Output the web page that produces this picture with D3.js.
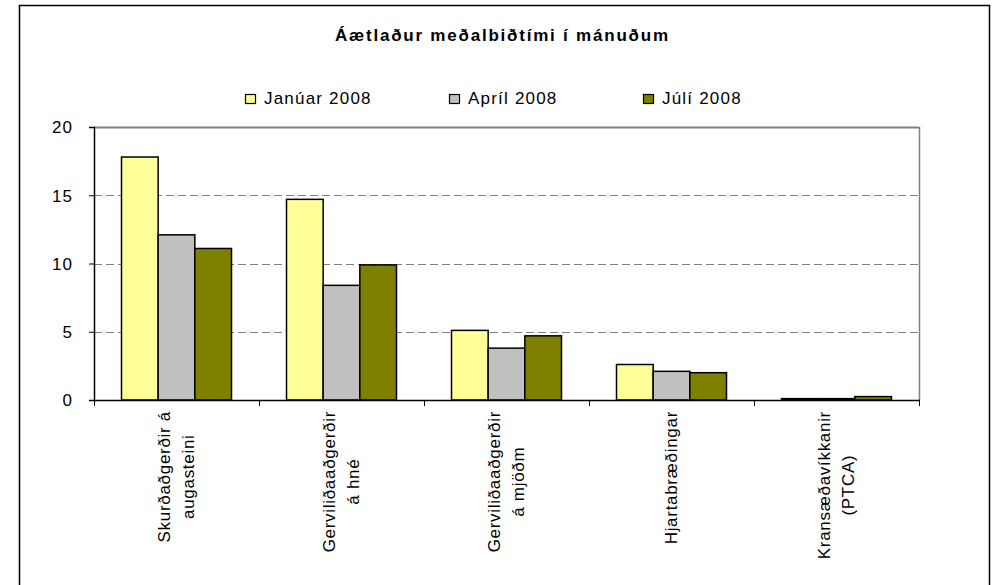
<!DOCTYPE html>
<html>
<head>
<meta charset="utf-8">
<script src="https://cdn.jsdelivr.net/npm/d3@7"></script>
<style>
  body { margin: 0; background: #fff; }
  svg { display: block; font-family: "Liberation Sans", Arial, sans-serif; }
</style>
</head>
<body>
<div id="chart"></div>
<script>
const title = 'Áætlaður meðalbiðtími í mánuðum';
const categories = [
  ['Skurðaðgerðir á', 'augasteini'],
  ['Gerviliðaaðgerðir', 'á hné'],
  ['Gerviliðaaðgerðir', 'á mjöðm'],
  ['Hjartabræðingar'],
  ['Kransæðavíkkanir', '(PTCA)']
];
const seriesNames = ['Janúar 2008', 'Apríl 2008', 'Júlí 2008'];
const seriesColors = ['#FFFF99', '#C0C0C0', '#808000'];
const jan2008 = [17.8, 14.7, 5.1, 2.6, 0.1];
const apr2008 = [12.1, 8.4, 3.8, 2.1, 0.1];
const jul2008 = [11.1, 9.9, 4.7, 2.0, 0.25];
const yTicks = [0, 5, 10, 15, 20];

const width = 994, height = 585;
const plot = { left: 94, right: 919, top: 127, bottom: 400 };

const svg = d3.select('#chart').append('svg')
  .attr('width', width)
  .attr('height', height);

svg.append('rect')
  .attr('x', 19.5).attr('y', 5.5)
  .attr('width', 970).attr('height', 600)
  .attr('fill', '#fff')
  .attr('stroke', '#000')
  .attr('stroke-width', 1.5);

let x0 = d3.scaleBand()
  .domain(d3.range(categories.length))
  .range([plot.left, plot.right]);

// excel style gap width 150%
let x1 = d3.scaleBand()
  .domain(d3.range(seriesNames.length))
  .range([0, x0.bandwidth()])
  .paddingOuter(0.75)
  .paddingInner(0);

let y = d3.scaleLinear()
  .domain([0, 20])
  .range([plot.bottom, plot.top]);

// gridlines
svg.append('g')
  .selectAll('line')
  .data(yTicks.filter(d => d > 0 && d < 20))
  .join('line')
  .attr('x1', plot.left).attr('x2', plot.right)
  .attr('y1', d => Math.round(y(d)) + 0.5)
  .attr('y2', d => Math.round(y(d)) + 0.5)
  .attr('stroke', '#808080')
  .attr('stroke-width', 1)
  .attr('stroke-dasharray', '8,4');

// top/right plot border
svg.append('line')
  .attr('x1', plot.right + 0.5).attr('x2', plot.right + 0.5)
  .attr('y1', plot.top).attr('y2', plot.bottom)
  .attr('stroke', '#808080').attr('stroke-width', 1.5);
svg.append('line')
  .attr('x1', plot.left).attr('x2', plot.right)
  .attr('y1', y(20) + 0.5).attr('y2', y(20) + 0.5)
  .attr('stroke', '#808080').attr('stroke-width', 2);

// bars
const series = [jan2008, apr2008, jul2008];
const groups = svg.append('g')
  .selectAll('g')
  .data(categories.map((c, i) => i))
  .join('g')
  .attr('transform', i => `translate(${x0(i)},0)`);

groups.selectAll('rect')
  .data(i => series.map((s, k) => ({ k, v: s[i] })))
  .join('rect')
  .attr('x', d => x1(d.k))
  .attr('width', x1.bandwidth())
  .attr('y', d => y(d.v))
  .attr('height', d => y(0) - y(d.v))
  .attr('fill', d => seriesColors[d.k])
  .attr('stroke', '#000')
  .attr('stroke-width', 1.5);

// y axis
const yAxis = svg.append('g')
  .attr('transform', `translate(${plot.left},0)`)
  .call(d3.axisLeft(y).tickValues(yTicks).tickSize(5).tickPadding(16).tickFormat(d3.format('d')));
yAxis.select('.domain').attr('stroke', '#000').attr('stroke-width', 1.5);
yAxis.selectAll('.tick line').attr('stroke', '#000');
yAxis.selectAll('.tick text')
  .attr('font-size', 17)
  .attr('letter-spacing', '1px')
  .attr('fill', '#000')
  .attr('dy', '0.35em');

// x axis line and ticks
svg.append('line')
  .attr('x1', plot.left).attr('x2', plot.right + 1)
  .attr('y1', plot.bottom + 0.5).attr('y2', plot.bottom + 0.5)
  .attr('stroke', '#000').attr('stroke-width', 1.5);

const boundaries = d3.range(categories.length + 1).map(i => i < categories.length ? x0(i) : plot.right);
svg.append('g')
  .selectAll('line')
  .data(boundaries)
  .join('line')
  .attr('x1', d => Math.round(d) + 0.5).attr('x2', d => Math.round(d) + 0.5)
  .attr('y1', plot.bottom).attr('y2', plot.bottom + 6)
  .attr('stroke', '#000');

// x labels, rotated
const labelTop = 411;
categories.forEach((lines, i) => {
  const cx = x0(i) + x0.bandwidth() / 2;
  const g = svg.append('g');
  const texts = g.selectAll('text')
    .data(lines)
    .join('text')
    .attr('font-size', 17)
    .attr('letter-spacing', '0.7px')
    .attr('text-anchor', 'middle')
    .text(d => d);
  const maxW = d3.max(texts.nodes(), n => n.getComputedTextLength());
  const cy = labelTop + maxW / 2;
  texts.attr('transform', (d, j) => {
    const bx = cx + 5 + (j - (lines.length - 1) / 2) * 24;
    return `translate(${bx},${cy}) rotate(-90)`;
  });
});

// title
svg.append('text')
  .attr('x', 335)
  .attr('y', 41)
  .attr('font-size', 17)
  .attr('font-weight', 'bold')
  .attr('textLength', 333)
  .attr('lengthAdjust', 'spacing')
  .text(title);

// legend
const legendX = [245, 449, 643];
const legend = svg.append('g')
  .selectAll('g')
  .data(seriesNames)
  .join('g')
  .attr('transform', (d, i) => `translate(${legendX[i]},94)`);
legend.append('rect')
  .attr('x', 0.5).attr('y', 0.5)
  .attr('width', 10).attr('height', 9)
  .attr('fill', (d, i) => seriesColors[i])
  .attr('stroke', '#000')
  .attr('stroke-width', 1.2);
legend.append('text')
  .attr('x', 19)
  .attr('y', 9.5)
  .attr('font-size', 17)
  .attr('letter-spacing', '1.2px')
  .text(d => d);
</script>
</body>
</html>
